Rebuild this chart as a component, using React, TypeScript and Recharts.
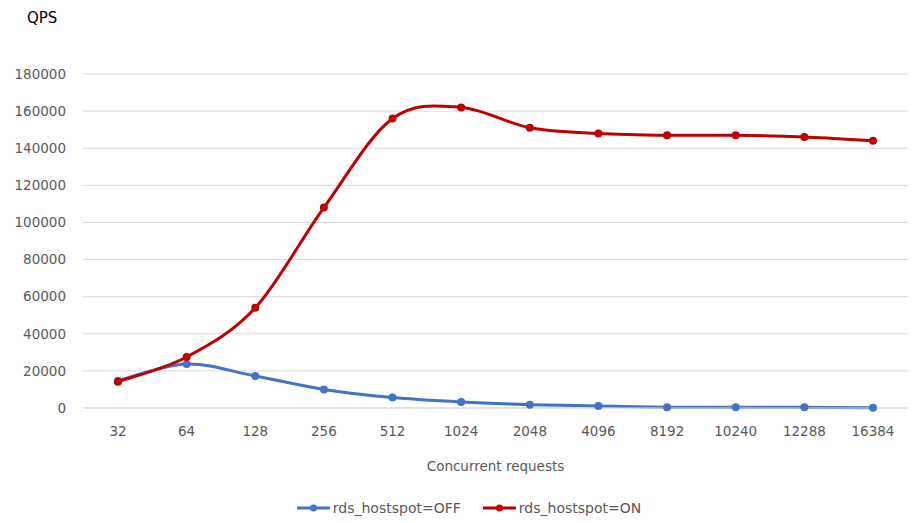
import { CartesianGrid, Legend, Line, LineChart, XAxis, YAxis } from "recharts";

const concurrency = ["32", "64", "128", "256", "512", "1024", "2048", "4096", "8192", "10240", "12288", "16384"];
const qpsOff = [14700, 23700, 17200, 10000, 5600, 3200, 1800, 1100, 400, 400, 400, 100];
const qpsOn = [14200, 27500, 54000, 108000, 156000, 162000, 151000, 148000, 147000, 147000, 146000, 144000];
const yTicks = [0, 20000, 40000, 60000, 80000, 100000, 120000, 140000, 160000, 180000];

const series = [
  { key: "off", name: "rds_hostspot=OFF", color: "#4472C4" },
  { key: "on", name: "rds_hostspot=ON", color: "#C00000" },
];

const data = concurrency.map((c, i) => ({ c, off: qpsOff[i], on: qpsOn[i] }));

const FONT = "'DejaVu Sans', 'Noto Sans', sans-serif";
const GRAY = "#595959";

// Cardinal (Catmull-Rom style) smoothing, similar to office-style smoothed lines
function smoothCurve(context: any) {
  let pts: number[][] = [];
  return {
    areaStart() {},
    areaEnd() {},
    lineStart() {
      pts = [];
    },
    point(x: number, y: number) {
      pts.push([+x, +y]);
    },
    lineEnd() {
      if (!pts.length) return;
      context.moveTo(pts[0][0], pts[0][1]);
      for (let i = 0; i < pts.length - 1; i++) {
        const p0 = pts[i - 1] || pts[i];
        const p1 = pts[i];
        const p2 = pts[i + 1];
        const p3 = pts[i + 2] || p2;
        context.bezierCurveTo(
          p1[0] + (p2[0] - p0[0]) / 6,
          p1[1] + (p2[1] - p0[1]) / 6,
          p2[0] - (p3[0] - p1[0]) / 6,
          p2[1] - (p3[1] - p1[1]) / 6,
          p2[0],
          p2[1]
        );
      }
    },
  };
}

function LegendContent() {
  return (
    <div
      style={{
        height: 30,
        display: "flex",
        justifyContent: "center",
        alignItems: "center",
        gap: 22,
        paddingLeft: 30,
        fontFamily: FONT,
        fontSize: 14,
        color: GRAY,
      }}
    >
      {series.map((s) => (
        <div key={s.key} style={{ display: "flex", alignItems: "center" }}>
          <svg width={33} height={10} style={{ marginRight: 3 }}>
            <line x1={0} y1={5} x2={33} y2={5} stroke={s.color} strokeWidth={3} />
            <circle cx={16.5} cy={5} r={3.5} fill={s.color} />
          </svg>
          <span>{s.name}</span>
        </div>
      ))}
    </div>
  );
}

export default function App() {
  return (
    <div style={{ position: "absolute", left: 0, top: 0, width: 914, height: 523, background: "#fff" }}>
      <div style={{ position: "absolute", left: 27, top: 9, fontFamily: FONT, fontSize: 15, color: "#000" }}>
        QPS
      </div>
      <LineChart width={914} height={523} data={data} margin={{ top: 74, right: 6, bottom: 0, left: 0 }}>
        <CartesianGrid stroke="#D9D9D9" vertical={false} />
        <XAxis
          dataKey="c"
          height={85}
          padding={{ left: 35, right: 35 }}
          axisLine={{ stroke: "#D9D9D9" }}
          tickLine={false}
          tickSize={0}
          tickMargin={18}
          tick={{ fill: GRAY, fontSize: 13.5, fontFamily: FONT }}
          label={{
            value: "Concurrent requests",
            position: "insideBottom",
            offset: 22,
            fill: GRAY,
            fontSize: 13.5,
            fontFamily: FONT,
          }}
        />
        <YAxis
          width={83}
          domain={[0, 180000]}
          ticks={yTicks}
          axisLine={false}
          tickLine={false}
          tickSize={0}
          tickMargin={17}
          tick={{ fill: GRAY, fontSize: 13.5, fontFamily: FONT }}
        />
        <Legend verticalAlign="bottom" content={<LegendContent />} />
        {series.map((s) => (
          <Line
            key={s.key}
            dataKey={s.key}
            name={s.name}
            type={smoothCurve as any}
            stroke={s.color}
            strokeWidth={3}
            dot={{ r: 4, fill: s.color, stroke: s.color, strokeWidth: 0 }}
            isAnimationActive={false}
          />
        ))}
      </LineChart>
    </div>
  );
}
